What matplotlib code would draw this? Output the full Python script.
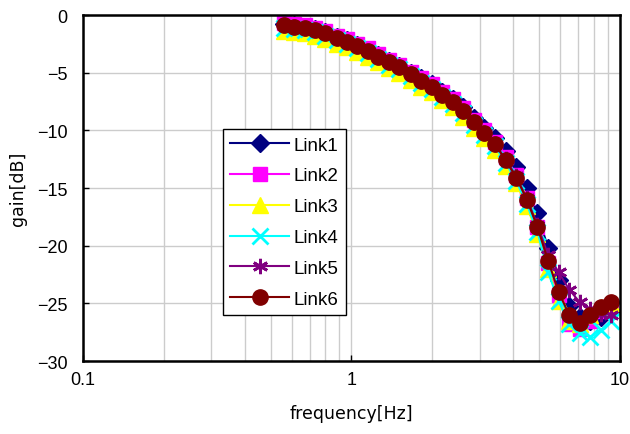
import matplotlib
matplotlib.use('Agg')
import matplotlib.pyplot as plt
from matplotlib.ticker import FixedLocator, FixedFormatter, LogLocator, NullFormatter

plt.rcParams['font.family'] = ['Liberation Sans', 'DejaVu Sans']

# frequency points [Hz]
freq = [0.56, 0.61, 0.67, 0.73, 0.80, 0.88, 0.96, 1.05, 1.15, 1.26, 1.38, 1.51,
        1.66, 1.82, 1.99, 2.18, 2.38, 2.61, 2.86, 3.13, 3.43, 3.75, 4.11, 4.50,
        4.93, 5.40, 5.91, 6.47, 7.08, 7.76, 8.49, 9.30]

# gain [dB] per link
link1 = [-0.8, -0.9, -1.0, -1.2, -1.5, -1.9, -2.2, -2.6, -3.0, -3.5, -4.0, -4.4,
         -5.0, -5.5, -6.0, -6.7, -7.3, -8.0, -8.9, -9.8, -10.7, -11.8, -13.2, -15.0,
         -17.2, -20.2, -23.0, -25.2, -26.2, -26.5, -26.2, -25.7]
link2 = [-0.7, -0.8, -0.9, -1.1, -1.4, -1.8, -2.1, -2.5, -2.9, -3.4, -3.9, -4.3,
         -4.9, -5.5, -6.0, -6.7, -7.3, -8.1, -9.1, -10.0, -11.0, -12.3, -13.9, -15.9,
         -18.4, -21.5, -24.3, -26.8, -27.2, -26.5, -25.7, -25.2]
link3 = [-1.4, -1.5, -1.6, -1.8, -2.1, -2.5, -2.8, -3.2, -3.6, -4.1, -4.6, -5.0,
         -5.6, -6.2, -6.7, -7.4, -8.0, -8.8, -9.8, -10.7, -11.7, -13.1, -14.6, -16.6,
         -19.0, -22.0, -24.8, -26.5, -26.8, -26.0, -25.3, -25.0]
link4 = [-1.1, -1.2, -1.3, -1.5, -1.8, -2.2, -2.5, -2.9, -3.3, -3.8, -4.3, -4.7,
         -5.3, -5.9, -6.4, -7.1, -7.7, -8.5, -9.5, -10.4, -11.4, -12.8, -14.4, -16.4,
         -18.8, -22.3, -24.8, -26.8, -27.6, -27.9, -27.3, -26.5]
link5 = [-0.9, -1.0, -1.1, -1.3, -1.6, -2.0, -2.3, -2.7, -3.1, -3.6, -4.1, -4.5,
         -5.1, -5.7, -6.2, -6.9, -7.5, -8.3, -9.3, -10.2, -11.2, -12.5, -14.0, -15.9,
         -18.2, -20.8, -22.3, -23.8, -24.9, -25.5, -25.9, -26.0]
link6 = [-0.9, -1.0, -1.1, -1.3, -1.6, -2.0, -2.3, -2.7, -3.1, -3.6, -4.1, -4.5,
         -5.1, -5.7, -6.2, -6.9, -7.5, -8.3, -9.3, -10.2, -11.2, -12.6, -14.1, -16.0,
         -18.4, -21.3, -24.0, -26.0, -26.7, -26.0, -25.3, -24.9]

names = ['Link1', 'Link2', 'Link3', 'Link4', 'Link5', 'Link6']
series = [link1, link2, link3, link4, link5, link6]
colors = ['#000080', '#ff00ff', '#ffff00', '#00ffff', '#800080', '#800000']
markers = ['D', 's', '^', 'x', (6, 2, 0), 'o']
msizes = [9.5, 10, 11, 11.5, 11, 11]

fig = plt.figure(figsize=(6.3, 4.35), dpi=100)
ax = fig.add_axes([0.1317, 0.1678, 0.8523, 0.7954])

for name, vals, c, m, ms in zip(names, series, colors, markers, msizes):
    if m in ('D', 's', '^', 'o'):
        ax.plot(freq, vals, color=c, marker=m, markersize=ms, markeredgecolor=c,
                linewidth=1.5, label=name)
    else:
        ax.plot(freq, vals, color=c, marker=m, markersize=ms, markeredgewidth=2,
                linewidth=1.5, label=name)

ax.set_xscale('log')
ax.set_xlim(0.1, 10)
ax.set_ylim(-30, 0)
ax.xaxis.set_major_locator(FixedLocator([0.1, 1, 10]))
ax.xaxis.set_major_formatter(FixedFormatter(['0.1', '1', '10']))
ax.xaxis.set_minor_locator(LogLocator(base=10, subs=[2, 3, 4, 5, 6, 7, 8, 9]))
ax.xaxis.set_minor_formatter(NullFormatter())
ax.set_yticks([0, -5, -10, -15, -20, -25, -30])

ax.grid(True, which='major', color='#cccccc', linewidth=1)
ax.grid(True, which='minor', axis='x', color='#cccccc', linewidth=1)
ax.set_axisbelow(True)

ax.tick_params(axis='both', which='major', direction='in', length=4, width=1,
               labelsize=13)
ax.tick_params(axis='y', which='major', pad=11)
ax.tick_params(axis='x', which='major', pad=7)
ax.tick_params(axis='x', which='minor', length=0)
for sp in ax.spines.values():
    sp.set_linewidth(1.8)
    sp.set_color('black')

ax.set_xlabel('frequency[Hz]', fontsize=12.5, family='DejaVu Sans', labelpad=12)
ax.set_ylabel('gain[dB]', fontsize=12.5, family='DejaVu Sans', labelpad=7)

leg = ax.legend(loc='upper left', bbox_to_anchor=(0.2607, 0.6705), fontsize=13.5,
                frameon=True, fancybox=False, edgecolor='black', framealpha=1,
                borderaxespad=0, handlelength=3.1, borderpad=0.4,
                labelspacing=0.73, handletextpad=0.25)
leg.get_frame().set_linewidth(1)

fig.savefig('out.png', dpi=100)
